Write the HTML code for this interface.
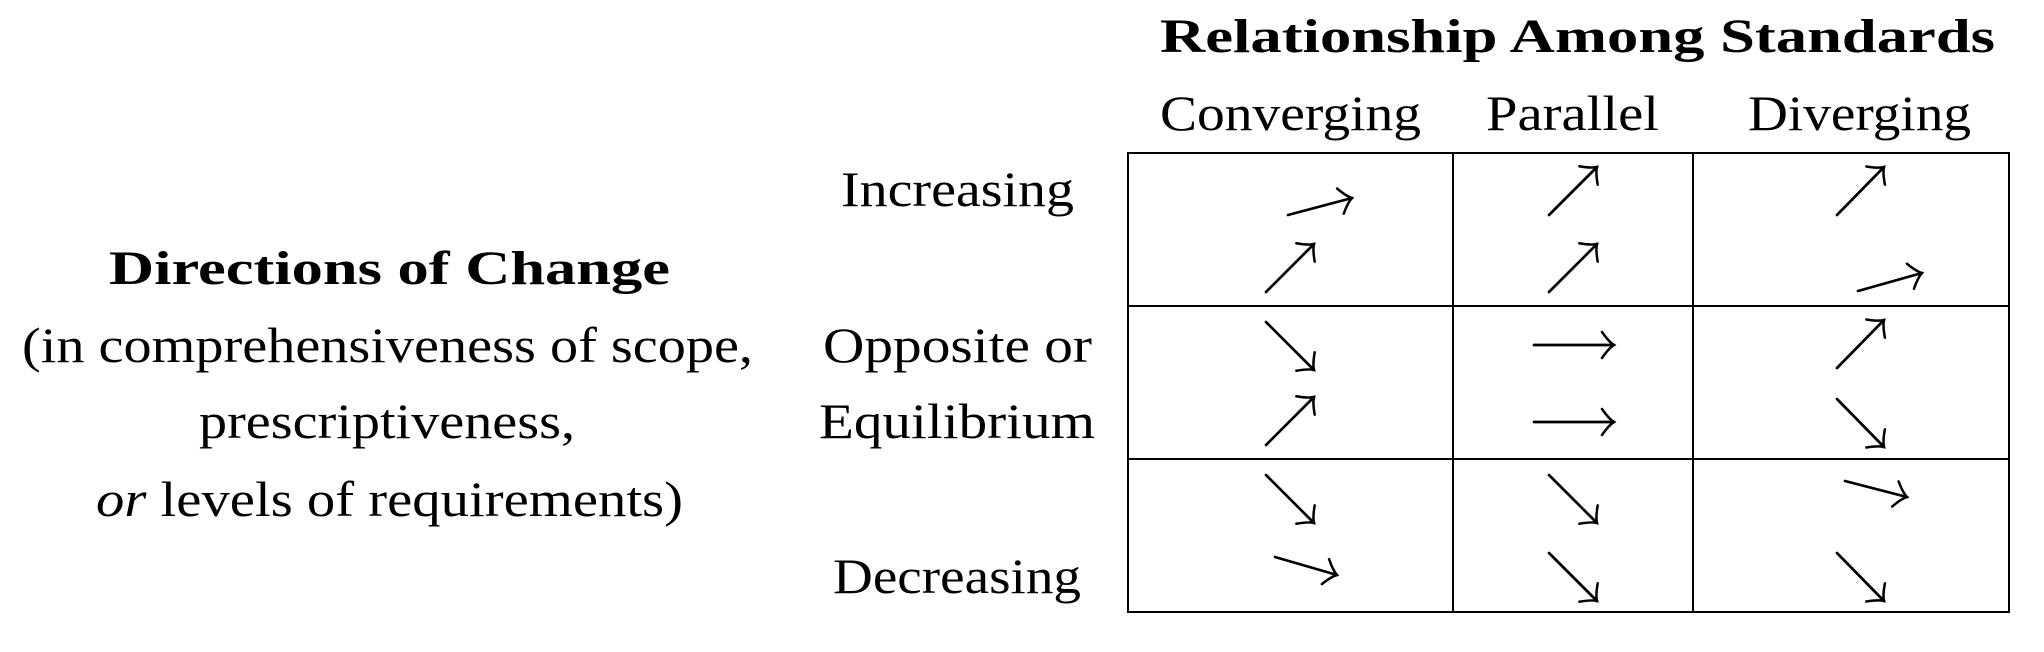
<!DOCTYPE html>
<html><head><meta charset="utf-8"><style>
html,body{margin:0;padding:0;background:#fff;}
svg{display:block;}
text{font-family:"Liberation Serif",serif;fill:#000;}
</style></head><body>
<svg width="2044" height="652" viewBox="0 0 2044 652" xmlns="http://www.w3.org/2000/svg">
<defs>
<marker id="h" markerUnits="userSpaceOnUse" markerWidth="30" markerHeight="30" refX="15" refY="15" orient="auto" viewBox="0 0 30 30" overflow="visible">
<path d="M3,2 Q10,12 15,15 Q10,18 3,28" fill="none" stroke="#000" stroke-width="2.5" stroke-linecap="round"/>
</marker>
</defs>
<text x="1160" y="52" font-size="48" font-weight="bold" textLength="835" lengthAdjust="spacingAndGlyphs">Relationship Among Standards</text>
<text x="1160" y="130" font-size="50" textLength="261" lengthAdjust="spacingAndGlyphs">Converging</text>
<text x="1486" y="130" font-size="50" textLength="173" lengthAdjust="spacingAndGlyphs">Parallel</text>
<text x="1748" y="130" font-size="50" textLength="223" lengthAdjust="spacingAndGlyphs">Diverging</text>

<text x="841" y="206" font-size="50" textLength="233" lengthAdjust="spacingAndGlyphs">Increasing</text>
<text x="109" y="284" font-size="48" font-weight="bold" textLength="561" lengthAdjust="spacingAndGlyphs">Directions of Change</text>
<text x="22" y="362" font-size="50" textLength="731" lengthAdjust="spacingAndGlyphs">(in comprehensiveness of scope,</text>
<text x="823" y="362" font-size="50" textLength="269" lengthAdjust="spacingAndGlyphs">Opposite or</text>
<text x="199" y="438" font-size="50" textLength="376" lengthAdjust="spacingAndGlyphs">prescriptiveness,</text>
<text x="819" y="438" font-size="50" textLength="276" lengthAdjust="spacingAndGlyphs">Equilibrium</text>
<text x="96" y="516" font-size="50" textLength="587" lengthAdjust="spacingAndGlyphs"><tspan font-style="italic">or</tspan> levels of requirements)</text>
<text x="833" y="593" font-size="50" textLength="248" lengthAdjust="spacingAndGlyphs">Decreasing</text>

<g fill="none" stroke="#000" stroke-width="2">
<rect x="1128" y="153" width="881" height="459"/>
<line x1="1453" y1="153" x2="1453" y2="612"/>
<line x1="1693" y1="153" x2="1693" y2="612"/>
<line x1="1128" y1="306" x2="2009" y2="306"/>
<line x1="1128" y1="459" x2="2009" y2="459"/>
</g>
<g stroke="#000" stroke-width="2.7" stroke-linecap="round" marker-end="url(#h)">
<line x1="1288" y1="215" x2="1352" y2="198"/>
<line x1="1266" y1="292" x2="1314" y2="244"/>
<line x1="1549" y1="215" x2="1597" y2="167"/>
<line x1="1549" y1="292" x2="1597" y2="244"/>
<line x1="1837" y1="215" x2="1884" y2="167"/>
<line x1="1858" y1="291" x2="1922" y2="273"/>
<line x1="1266" y1="322" x2="1314" y2="370"/>
<line x1="1266" y1="445" x2="1314" y2="397"/>
<line x1="1534" y1="345" x2="1614" y2="345"/>
<line x1="1534" y1="422" x2="1614" y2="422"/>
<line x1="1837" y1="368" x2="1884" y2="320"/>
<line x1="1837" y1="399" x2="1884" y2="447"/>
<line x1="1266" y1="475" x2="1314" y2="523"/>
<line x1="1275" y1="557" x2="1337" y2="575"/>
<line x1="1549" y1="475" x2="1597" y2="523"/>
<line x1="1549" y1="553" x2="1597" y2="601"/>
<line x1="1845" y1="481" x2="1907" y2="497"/>
<line x1="1837" y1="553" x2="1884" y2="601"/>
</g>
</svg>
</body></html>
